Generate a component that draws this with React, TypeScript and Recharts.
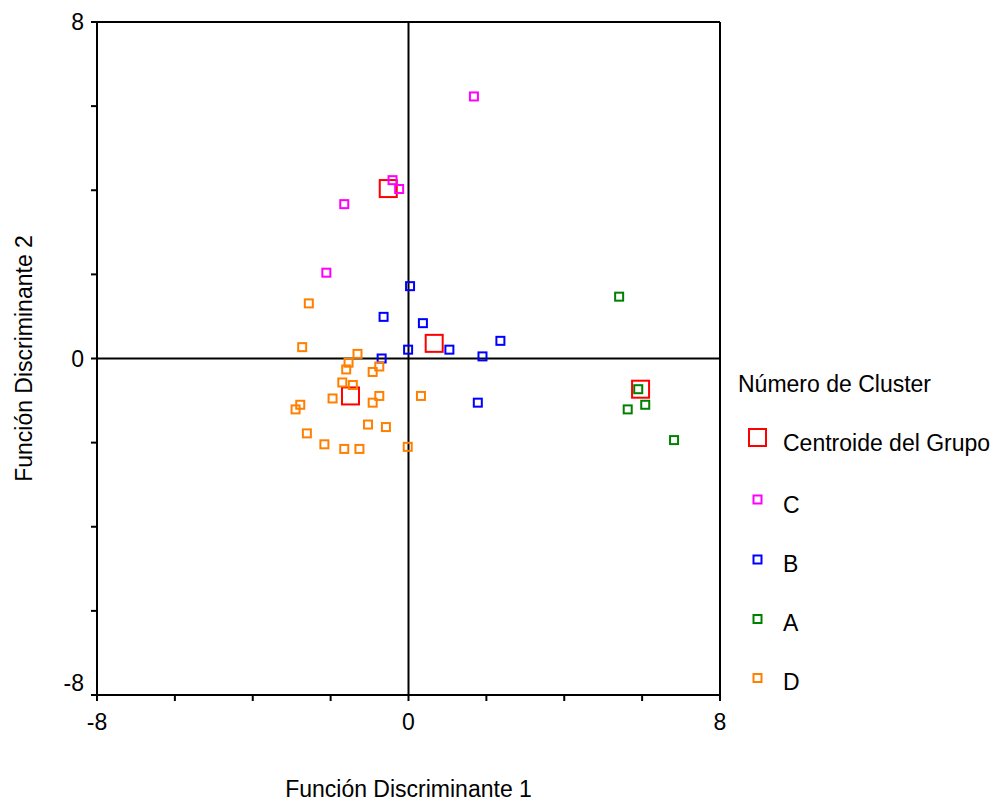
import { ScatterChart, Scatter, XAxis, YAxis, ReferenceLine } from "recharts";

// discriminant scores: [funcion 1, funcion 2]
const clusterC = [
  [1.68, 6.23],
  [-0.41, 4.24],
  [-0.24, 4.03],
  [-1.65, 3.67],
  [-2.11, 2.04],
];

const clusterB = [
  [0.04, 1.72],
  [-0.64, 0.99],
  [0.37, 0.84],
  [-0.01, 0.21],
  [1.05, 0.21],
  [2.36, 0.42],
  [1.9, 0.05],
  [-0.69, 0.0],
  [1.78, -1.05],
];

const clusterA = [
  [5.41, 1.47],
  [5.9, -0.73],
  [6.08, -1.1],
  [5.63, -1.21],
  [6.82, -1.94],
];

const clusterD = [
  [-2.56, 1.31],
  [-2.73, 0.27],
  [-1.31, 0.11],
  [-1.54, -0.1],
  [-1.6, -0.26],
  [-0.75, -0.19],
  [-0.92, -0.32],
  [-1.7, -0.57],
  [-1.43, -0.63],
  [-1.95, -0.95],
  [-0.75, -0.89],
  [-0.92, -1.05],
  [-2.78, -1.1],
  [-2.9, -1.21],
  [0.32, -0.89],
  [-1.04, -1.57],
  [-0.58, -1.63],
  [-2.61, -1.78],
  [-2.16, -2.04],
  [-1.65, -2.15],
  [-1.26, -2.15],
  [-0.02, -2.1],
];

const centroids = [
  [-0.52, 4.04],
  [0.66, 0.36],
  [5.96, -0.73],
  [-1.49, -0.89],
];

const axisTicks = [-8, -6, -4, -2, 0, 2, 4, 6, 8];
const labeledTicks = [-8, 0, 8];

const legendTitle = "Número de Cluster";
const legendNames = ["Centroide del Grupo", "C", "B", "A", "D"];

const FONT = '"Liberation Sans", Arial, sans-serif';
const COLORS = {
  centroid: "#FF0000",
  C: "#FF00FF",
  B: "#0000FF",
  A: "#008000",
  D: "#FF8000",
};
const legendColors = [COLORS.centroid, COLORS.C, COLORS.B, COLORS.A, COLORS.D];
const legendIconY = [437.5, 499.5, 559.5, 619, 678];
const legendTextY = [450.5, 513, 572, 631, 690];

const toPoints = (rows: number[][]) => rows.map(([x, y]) => ({ x, y }));

const squareShape = (color: string, size: number) => (props: any) => {
  const { cx, cy } = props;
  if (cx == null || cy == null) return <g />;
  return (
    <rect
      x={cx - size / 2}
      y={cy - size / 2}
      width={size}
      height={size}
      fill="none"
      stroke={color}
      strokeWidth={2}
    />
  );
};

const XTick = (props: any) => {
  const { x, y, payload } = props;
  if (!labeledTicks.includes(payload.value)) return <g />;
  return (
    <text x={x} y={y} dy={16.5} textAnchor="middle" fontFamily={FONT} fontSize={23} fill="#000">
      {payload.value}
    </text>
  );
};

const YTick = (props: any) => {
  const { x, y, payload } = props;
  if (!labeledTicks.includes(payload.value)) return <g />;
  // SPSS nudges the bottom label up
  const shift = payload.value === -8 ? -12 : 0;
  return (
    <text x={x} y={y + shift} dy={8.2} textAnchor="end" fontFamily={FONT} fontSize={23} fill="#000">
      {payload.value}
    </text>
  );
};

const App = () => {
  return (
    <div style={{ position: "absolute", left: 0, top: 0, width: 994, height: 801, background: "#fff" }}>
      <ScatterChart width={994} height={801} margin={{ top: 22, right: 274, bottom: 0, left: 0 }}>
        <XAxis
          type="number"
          dataKey="x"
          domain={[-8, 8]}
          ticks={axisTicks}
          interval={0}
          height={106}
          tickSize={6}
          tickMargin={12}
          tick={<XTick />}
          axisLine={{ stroke: "#000", strokeWidth: 2 }}
          tickLine={{ stroke: "#000", strokeWidth: 2 }}
          label={{
            value: "Función Discriminante 1",
            position: "insideBottom",
            offset: 4,
            style: { fontFamily: FONT, fontSize: 23, fill: "#000" },
          }}
        />
        <YAxis
          type="number"
          dataKey="y"
          domain={[-8, 8]}
          ticks={axisTicks}
          interval={0}
          width={97}
          tickSize={6}
          tickMargin={7}
          tick={<YTick />}
          axisLine={{ stroke: "#000", strokeWidth: 2 }}
          tickLine={{ stroke: "#000", strokeWidth: 2 }}
          label={{
            value: "Función Discriminante 2",
            angle: -90,
            position: "insideLeft",
            offset: 24,
            style: { fontFamily: FONT, fontSize: 23, fill: "#000", textAnchor: "middle" },
          }}
        />
        <ReferenceLine x={8} stroke="#000" strokeWidth={2} />
        <ReferenceLine y={8} stroke="#000" strokeWidth={2} />
        <ReferenceLine x={0} stroke="#000" strokeWidth={2} />
        <ReferenceLine y={0} stroke="#000" strokeWidth={2} />
        <Scatter name="Centroide del Grupo" data={toPoints(centroids)} shape={squareShape(COLORS.centroid, 17)} isAnimationActive={false} />
        <Scatter name="C" data={toPoints(clusterC)} shape={squareShape(COLORS.C, 8)} isAnimationActive={false} />
        <Scatter name="B" data={toPoints(clusterB)} shape={squareShape(COLORS.B, 8)} isAnimationActive={false} />
        <Scatter name="A" data={toPoints(clusterA)} shape={squareShape(COLORS.A, 8)} isAnimationActive={false} />
        <Scatter name="D" data={toPoints(clusterD)} shape={squareShape(COLORS.D, 8)} isAnimationActive={false} />
      </ScatterChart>

      {/* legend drawn by hand to match the SPSS layout */}
      <svg width={994} height={801} style={{ position: "absolute", left: 0, top: 0, pointerEvents: "none" }}>
        <text x={738} y={391.5} fontFamily={FONT} fontSize={23} fill="#000">
          {legendTitle}
        </text>
        {legendNames.map((name, i) => {
          const size = i === 0 ? 17 : 8;
          return (
            <g key={name}>
              <rect
                x={757.5 - size / 2}
                y={legendIconY[i] - size / 2}
                width={size}
                height={size}
                fill="none"
                stroke={legendColors[i]}
                strokeWidth={2}
              />
              <text x={783} y={legendTextY[i]} fontFamily={FONT} fontSize={23} fill="#000">
                {name}
              </text>
            </g>
          );
        })}
      </svg>
    </div>
  );
};

export default App;
